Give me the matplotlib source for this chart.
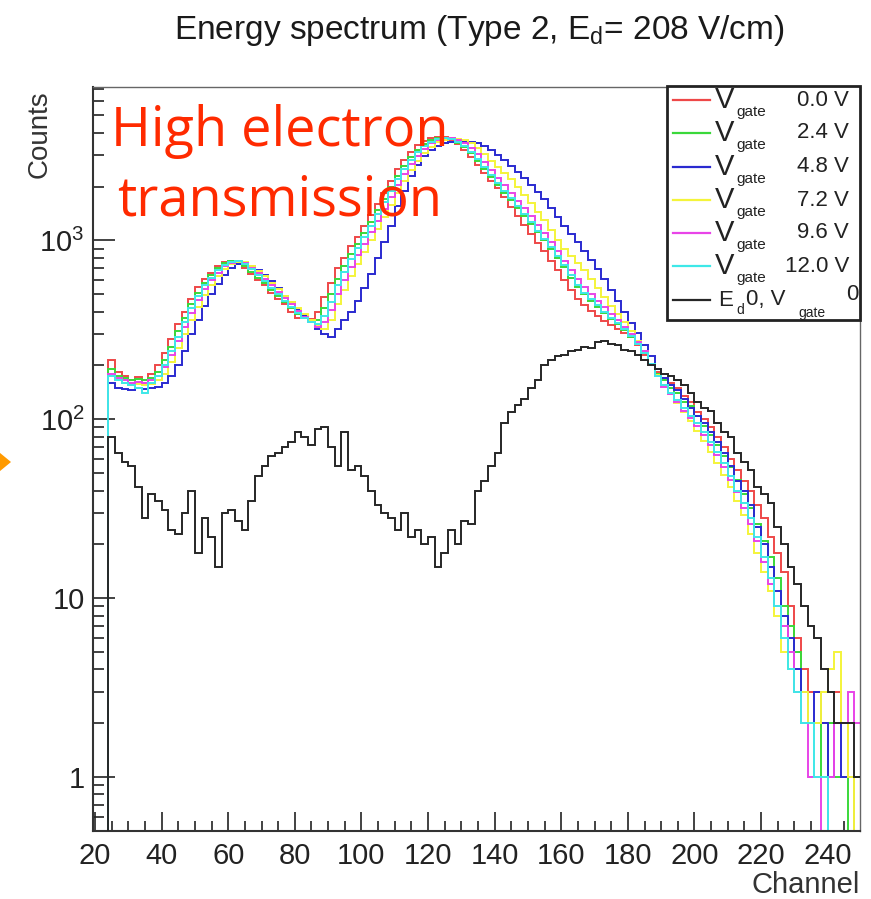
import numpy as np
import matplotlib
matplotlib.use("Agg")
import matplotlib.pyplot as plt
from matplotlib.ticker import MultipleLocator, LogLocator, NullFormatter, FuncFormatter
from matplotlib.patches import Rectangle, Polygon
from matplotlib.lines import Line2D

plt.rcParams['font.family'] = ['Liberation Sans', 'DejaVu Sans']
plt.rcParams['mathtext.fontset'] = 'custom'
plt.rcParams['mathtext.rm'] = 'Liberation Sans'
plt.rcParams['mathtext.it'] = 'Liberation Sans:italic'

# ---------------------------------------------------------------
# data: counts per 2-channel bin, bins from channel 24 to 250
# ---------------------------------------------------------------
bin_edges = np.arange(24, 252, 2)

counts_0v0 = [215, 185, 175, 165, 172, 160, 180, 200, 235, 280,
              340, 400, 470, 550, 610, 660, 720, 760, 770, 750,
              700, 650, 600, 560, 510, 470, 440, 400, 370, 380,
              365, 400, 480, 580, 700, 800, 930, 1050, 1200, 1380,
              1600, 1850, 2150, 2500, 2800, 3100, 3400, 3600, 3720, 3780,
              3760, 3650, 3450, 3200, 2920, 2640, 2380, 2150, 1950, 1740,
              1540, 1370, 1220, 1090, 970, 870, 770, 680, 600, 530,
              470, 435, 405, 380, 355, 335, 320, 305, 290, 260,
              230, 205, 185, 170, 160, 150, 135, 125, 110, 100,
              90, 80, 70, 60, 52, 45, 40, 33, 28, 22,
              18, 14, 9, 6, 4, 3, 3, 2, 2, 3,
              2, 1, 0]

counts_2v4 = [190, 175, 170, 165, 168, 165, 170, 185, 215, 255,
              310, 370, 440, 510, 580, 640, 700, 745, 765, 760,
              720, 670, 620, 580, 530, 490, 450, 420, 390, 370,
              355, 360, 420, 500, 610, 720, 840, 960, 1100, 1270,
              1470, 1700, 1980, 2300, 2620, 2920, 3200, 3450, 3620, 3720,
              3740, 3680, 3520, 3320, 3060, 2780, 2500, 2250, 2030, 1850,
              1690, 1520, 1370, 1230, 1110, 1000, 900, 800, 710, 620,
              550, 500, 460, 425, 395, 365, 340, 315, 290, 262,
              235, 205, 180, 165, 150, 140, 125, 118, 105, 92,
              82, 72, 62, 54, 46, 38, 32, 26, 21, 17,
              13, 9, 7, 5, 3, 2, 2, 1, 2, 1,
              1, 0, 1]

counts_4v8 = [160, 150, 148, 145, 150, 148, 150, 152, 160, 175,
              200, 240, 300, 360, 430, 500, 570, 640, 700, 740,
              745, 720, 680, 640, 590, 540, 490, 450, 410, 380,
              350, 320, 300, 290, 320, 360, 400, 460, 540, 650,
              800, 980, 1200, 1560, 1900, 2300, 2650, 2950, 3200, 3380,
              3480, 3550, 3580, 3570, 3550, 3500, 3380, 3200, 3000, 2800,
              2600, 2420, 2230, 2050, 1870, 1700, 1520, 1350, 1200, 1080,
              975, 875, 780, 690, 605, 530, 460, 400, 345, 305,
              260, 225, 190, 170, 155, 145, 130, 115, 105, 95,
              85, 75, 65, 55, 45, 40, 33, 25, 20, 15,
              11, 8, 6, 4, 3, 2, 3, 2, 1, 2,
              1, 1, 0]

counts_7v2 = [175, 165, 160, 155, 158, 155, 158, 165, 180, 210,
              250, 300, 360, 425, 495, 565, 630, 690, 735, 760,
              755, 720, 675, 630, 580, 535, 490, 455, 420, 390,
              360, 335, 320, 360, 440, 530, 630, 740, 860, 1000,
              1160, 1350, 1580, 1850, 2150, 2470, 2790, 3090, 3340, 3530,
              3660, 3720, 3710, 3630, 3480, 3280, 3040, 2790, 2560, 2370,
              2200, 1990, 1790, 1610, 1450, 1300, 1150, 1010, 900, 820,
              750, 680, 610, 545, 485, 430, 390, 350, 310, 275,
              240, 205, 178, 155, 138, 124, 110, 98, 86, 76,
              66, 57, 49, 42, 35, 29, 23, 18, 14, 11,
              8, 5, 4, 3, 3, 2, 2, 3, 4, 5,
              2, 1, 0]

counts_9v6 = [180, 170, 165, 160, 162, 160, 165, 175, 195, 230,
              275, 330, 395, 465, 535, 600, 660, 715, 750, 765,
              745, 705, 655, 610, 560, 515, 475, 440, 405, 375,
              350, 330, 350, 410, 500, 600, 710, 830, 960, 1110,
              1290, 1500, 1750, 2040, 2350, 2670, 2980, 3260, 3480, 3640,
              3730, 3740, 3660, 3500, 3290, 3040, 2760, 2480, 2230, 2030,
              1850, 1670, 1510, 1360, 1220, 1100, 985, 870, 770, 685,
              610, 550, 500, 460, 425, 390, 360, 330, 300, 270,
              240, 205, 175, 152, 138, 125, 112, 102, 92, 82,
              72, 63, 54, 46, 39, 32, 26, 21, 16, 12,
              9, 7, 5, 3, 2, 1, 1, 0, 1, 2,
              2, 3, 2]

counts_12v0 = [175, 165, 160, 155, 150, 140, 160, 175, 200, 240,
               290, 350, 420, 490, 560, 620, 680, 730, 760, 765,
               735, 690, 640, 595, 545, 500, 460, 425, 395, 370,
               350, 340, 380, 450, 560, 670, 790, 910, 1050, 1210,
               1400, 1630, 1900, 2200, 2520, 2830, 3120, 3380, 3570, 3700,
               3750, 3700, 3570, 3380, 3130, 2860, 2580, 2320, 2100, 1900,
               1730, 1560, 1400, 1260, 1130, 1020, 920, 820, 730, 640,
               565, 510, 470, 435, 400, 370, 345, 318, 292, 264,
               235, 205, 175, 155, 140, 128, 115, 105, 95, 85,
               75, 66, 57, 48, 40, 34, 28, 22, 17, 13,
               9, 6, 4, 3, 2, 2, 1, 1, 0, 0,
               0, 0, 0]

counts_ed0 = [80, 65, 58, 55, 42, 28, 38, 35, 31, 24,
              23, 30, 40, 18, 28, 22, 15, 30, 31, 27,
              24, 35, 48, 55, 62, 65, 70, 75, 85, 80,
              72, 88, 90, 70, 55, 85, 52, 55, 48, 40,
              33, 30, 28, 24, 30, 22, 24, 20, 22, 15,
              18, 24, 20, 27, 26, 40, 45, 55, 65, 95,
              110, 120, 130, 150, 165, 200, 215, 225, 230, 240,
              245, 255, 250, 270, 275, 265, 260, 245, 240, 230,
              215, 200, 190, 180, 175, 165, 155, 140, 125, 115,
              112, 95, 85, 80, 65, 58, 52, 42, 38, 34,
              25, 20, 15, 12, 9, 7, 6, 4, 3, 2,
              2, 2, 1]

gate_labels = ['0.0 V', '2.4 V', '4.8 V', '7.2 V', '9.6 V', '12.0 V']
gate_series = [counts_0v0, counts_2v4, counts_4v8, counts_7v2, counts_9v6, counts_12v0]
gate_colors = ['#ee4848', '#3ad83a', '#2a2ad0', '#f4f43a', '#e844e8', '#3ee8e8']
black_color = '#262626'

# ---------------------------------------------------------------
# figure
# ---------------------------------------------------------------
fig = plt.figure(figsize=(8.71, 8.99), dpi=100)
ax = fig.add_axes([93 / 871, 1 - 831 / 899, 767 / 871, 744 / 899])

def fx(px):
    return (px - 93) / 767

def fy(py):
    return (831 - py) / 744

# draw order: last one on top
order = [2, 3, 4, 5, 1, 0]
for i in order:
    vals = np.array(gate_series[i], dtype=float)
    vals = np.where(vals > 0, vals, 1e-3)
    ax.stairs(vals, bin_edges, baseline=1e-3, color=gate_colors[i], lw=1.4, zorder=2 + i * 0.1)

vals = np.array(counts_ed0, dtype=float)
vals = np.where(vals > 0, vals, 1e-3)
ax.stairs(vals, bin_edges, baseline=1e-3, color=black_color, lw=1.4, zorder=3)

ax.set_yscale('log')
ax.set_xlim(19.4, 249.7)
ax.set_ylim(0.5, 7200)

ax.xaxis.set_major_locator(MultipleLocator(20))
ax.xaxis.set_minor_locator(MultipleLocator(5))
ax.yaxis.set_major_locator(LogLocator(base=10, subs=(1.0,)))
ax.yaxis.set_minor_locator(LogLocator(base=10, subs=np.arange(2, 10)))
ax.yaxis.set_minor_formatter(NullFormatter())

def log_lbl(v, pos):
    e = int(round(np.log10(v)))
    if e == 0:
        return '1'
    if e == 1:
        return '10'
    return r'$\mathregular{10^{%d}}$' % e

ax.yaxis.set_major_formatter(FuncFormatter(log_lbl))

ax.tick_params(axis='both', which='both', direction='in', top=False, right=False,
               labelsize=21, colors='#222222', width=1.2)
ax.tick_params(axis='y', which='major', length=16, pad=6)
ax.tick_params(axis='y', which='minor', length=8)
ax.tick_params(axis='x', which='major', length=14, pad=8)
ax.tick_params(axis='x', which='minor', length=7)

for s in ['left', 'bottom']:
    ax.spines[s].set_color('#333333')
    ax.spines[s].set_linewidth(1.5)
for s in ['top', 'right']:
    ax.spines[s].set_color('#666666')
    ax.spines[s].set_linewidth(1.0)

# titles / axis names
fig.text(479 / 871, 1 - 31 / 899, r'Energy spectrum (Type 2, E$_{\rm d}$= 208 V/cm)',
         ha='center', va='center', fontsize=24, color='#1a1a1a')
fig.text(40 / 871, 1 - 90 / 899, 'Counts', rotation=90, ha='center', va='top',
         fontsize=20, color='#333333')
fig.text(860 / 871, 1 - 885 / 899, 'Channel', ha='right', va='center',
         fontsize=21, color='#333333')

# annotation
ax.text(fx(280), fy(146), 'High electron', transform=ax.transAxes, ha='center',
        va='baseline', fontsize=39, color='#ff2a00', family='Open Sans', zorder=10)
ax.text(fx(280), fy(216), 'transmission', transform=ax.transAxes, ha='center',
        va='baseline', fontsize=39, color='#ff2a00', family='Open Sans', zorder=10)

# legend box (drawn by hand, ROOT style)
box = Rectangle((fx(667), fy(320)), fx(860) - fx(667), fy(86) - fy(320),
                transform=ax.transAxes, facecolor='white', edgecolor='#222222',
                lw=2, zorder=8, clip_on=False)
ax.add_patch(box)

row_y = [100, 133, 167, 200, 233, 266, 300]
for k in range(6):
    y = row_y[k]
    ax.add_line(Line2D([fx(673), fx(710)], [fy(y), fy(y)], transform=ax.transAxes,
                       color=gate_colors[k], lw=1.6, zorder=9))
    ax.text(fx(715), fy(y), 'V', transform=ax.transAxes, ha='left', va='center',
            fontsize=21, color='#222222', zorder=9)
    ax.text(fx(736), fy(y + 12), 'gate', transform=ax.transAxes, ha='left', va='center',
            fontsize=11, color='#222222', zorder=9)
    ax.text(fx(849), fy(y), gate_labels[k], transform=ax.transAxes, ha='right', va='center',
            fontsize=16, color='#222222', zorder=9)

y = row_y[6]
ax.add_line(Line2D([fx(673), fx(710)], [fy(y), fy(y)], transform=ax.transAxes,
                   color=black_color, lw=1.6, zorder=9))
ax.text(fx(718), fy(y), 'E', transform=ax.transAxes, ha='left', va='center',
        fontsize=16, color='#222222', zorder=9)
ax.text(fx(736), fy(y + 10), 'd', transform=ax.transAxes, ha='left', va='center',
        fontsize=10, color='#222222', zorder=9)
ax.text(fx(746), fy(y), '0, V', transform=ax.transAxes, ha='left', va='center',
        fontsize=16, color='#222222', zorder=9)
ax.text(fx(798), fy(y + 13), 'gate', transform=ax.transAxes, ha='left', va='center',
        fontsize=10, color='#222222', zorder=9)
ax.text(fx(858), fy(y - 6), '0', transform=ax.transAxes, ha='right', va='center',
        fontsize=16, color='#222222', zorder=9)

# orange arrow tip at the left edge
tri = Polygon([(-6 / 871, 1 - 448 / 899), (11 / 871, 1 - 462 / 899), (-6 / 871, 1 - 476 / 899)],
              closed=True, transform=fig.transFigure, facecolor='#ff9a00', edgecolor='none')
fig.patches.append(tri)

fig.savefig('out.png', dpi=100)
